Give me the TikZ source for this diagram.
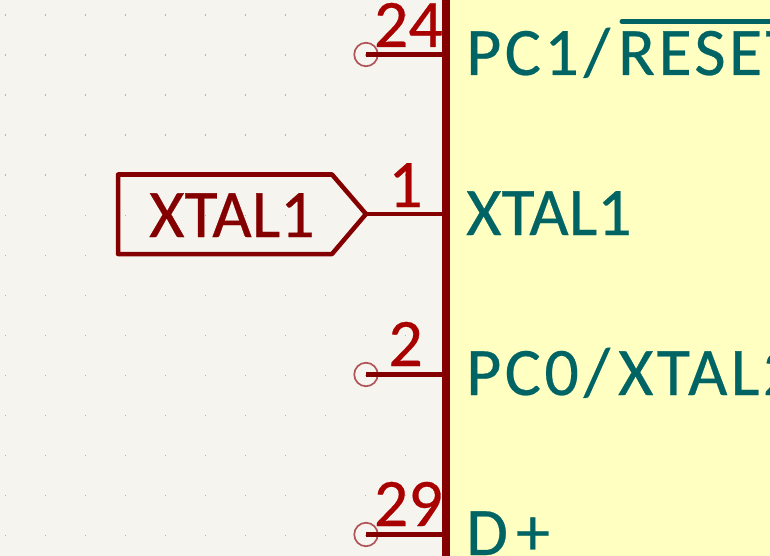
\documentclass[tikz,border=0pt]{standalone}
\usepackage{fontspec}
\setmainfont{Carlito}[FakeBold=0.4]
\newfontfamily\widefont{Carlito}[LetterSpace=5,FakeBold=0.4]
\definecolor{sheetbg}{HTML}{F5F4EF}
\definecolor{bodyfill}{HTML}{FFFFC2}
\definecolor{wirered}{HTML}{840000}
\definecolor{numred}{HTML}{A90000}
\definecolor{pinteal}{HTML}{006464}
\definecolor{griddot}{HTML}{B4B4AE}
\definecolor{stubred}{HTML}{B05458}
\tikzset{
  pinname/.style={anchor=base west, inner sep=0pt, text=pinteal, font=\fontsize{68}{68}\selectfont},
  pinnum/.style={anchor=base east, inner sep=0pt, text=numred, font=\fontsize{68}{68}\selectfont},
  tagname/.style={anchor=base west, inner sep=0pt, text=wirered, font=\fontsize{68}{68}\selectfont},
  pinline/.style={draw=wirered, line width=4.5pt},
  stub/.style={draw=stubred, line width=1.7pt, circle, minimum size=23.5pt, inner sep=0pt}
}

\begin{document}
\begin{tikzpicture}[x=1pt,y=-1pt]
\useasboundingbox (0,0) rectangle (770,556);
\clip (0,0) rectangle (770,556);
% sheet and symbol body
\fill[sheetbg] (0,0) rectangle (770,556);
\foreach \x in {0,...,10}
  \foreach \y in {0,...,13}
    \fill[griddot] (5+40*\x,14.5+40*\y) rectangle +(1.2,1.2);
\fill[bodyfill] (446,0) rectangle (770,556);

% pins
\foreach \name/\y in {a/54.5, b/374.5, c/534.5}{
  \node[stub] (stub\name) at (366,\y) {};
  \coordinate (end\name) at (446,\y);
  \draw[pinline] (stub\name.center) -- (end\name);
}
\coordinate (tip) at (366,214);
\coordinate (endd) at (446,214);
\draw[pinline] (tip) -- (endd);
\draw[draw=wirered, line width=8pt] (446,0) -- (446,556);

% pin numbers
\node[pinnum] (num24) at (443,47) {24};
\node[pinnum] (num1) at (423,207) {1};
\node[pinnum] (num2) at (423,366) {2};
\node[pinnum] (num29) at (443,526) {29};

% pin names
\node[pinname] (pcone) at (466,75) {\widefont PC1\kern5pt/\kern8pt RESET};
\node[pinname] (xtalone) at (466,235) {XTAL1};
\node[pinname] (pczero) at (466,395) {\widefont PC0\kern5pt/\kern8pt XTAL2};
\node[pinname] (dplus) at (466,555) {\widefont D\kern8pt +};
\draw[pinteal, line width=5pt, line cap=round] (622,21.5) -- (772,21.5);

% hierarchical label
\draw[wirered, line width=4.5pt, line join=round] (118,174.5) -- (332,174.5) -- (tip) -- (332,254) -- (118,254) -- cycle;
\node[tagname] (tag) at (149,237) {XTAL1};
\end{tikzpicture}
\end{document}
